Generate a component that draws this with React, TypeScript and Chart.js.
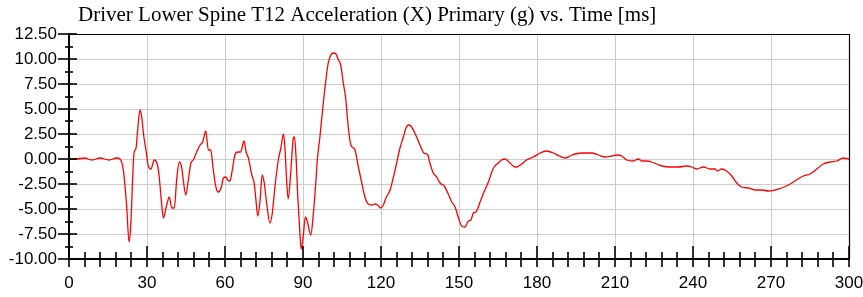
import React, { useEffect, useRef } from "react";
import { Chart, registerables } from "chart.js";

Chart.register(...registerables);

const TITLE = "Driver Lower Spine T12 Acceleration (X) Primary (g) vs. Time [ms]";

const timeMs: number[] = [
  0, 3, 6, 8.7, 12, 15.4, 18.3, 19.6, 20.9, 22.2, 23.1, 23.8, 24.5, 25, 25.8, 26.4, 27.3, 27.9, 28.8, 29.6,
  30.5, 31.5, 32.8, 34, 34.7, 35.6, 36.3, 37.3, 38.6, 39.5, 40.5, 41.4, 42.4, 43.3, 44, 44.9, 45.9, 46.9, 47.8, 49.1,
  50.4, 51.4, 52.6, 53.6, 54.5, 55.5, 56.5, 57.4, 58.5, 59.4, 60.3, 61, 61.9, 62.8, 63.8, 64.9, 66, 67.3, 68.1, 69,
  70.3, 71.2, 71.9, 72.6, 73.5, 74.3, 75.1, 76, 77.3, 78.2, 79.2, 80.5, 81.5, 82.5, 83.1, 83.7, 84.3, 85.3, 86.3, 86.7,
  87.3, 88, 88.8, 89.3, 90.1, 90.9, 91.7, 93, 94, 94.9, 95.5, 96.5, 97.8, 98.8, 99.7, 100.7, 101.7, 102.7, 103.6, 104.5,
  105.5, 106.4, 107.4, 108.4, 109.4, 110, 111.3, 112.6, 113.8, 115.1, 116.4, 117.7, 118.7, 119.9, 120.9, 121.9, 123.5, 124.7, 126, 127.3,
  128.6, 129.6, 130.5, 131.5, 133.7, 135, 136.5, 138, 138.8, 140.1, 141.4, 142.7, 144.3, 145.7, 147.2, 148.5, 149.7, 151, 152.3, 153.6,
  154.6, 155.5, 156.5, 158.1, 159.6, 161.3, 162.6, 163.5, 165.1, 166.4, 167.7, 169.6, 171.5, 172.2, 174.1, 176, 178.6, 181.2, 183.5, 186.3,
  188.6, 190.8, 192.7, 194.6, 197.8, 201, 203.6, 206.2, 208.7, 210.7, 212.6, 214.5, 217, 219, 220.3, 222.2, 224.1, 226, 228, 231.2,
  234.3, 237.6, 239.5, 241.4, 244, 246.5, 248.5, 249.3, 251, 252.9, 254.9, 256.8, 258.7, 261.3, 263.8, 266.4, 269, 271.5, 274.1, 276.7,
  279.2, 282.4, 285, 287.6, 290.1, 292.7, 295.3, 297.8, 300,
];

const accelG: number[] = [
  0, 0.0, 0.1, -0.1, 0.1, -0.1, 0.1, 0.0, -1.1, -4.8, -8.3, -6.4, -1.8, 0.6, 1.1, 2.9, 4.9, 4.3, 2.2, 0.9,
  -0.7, -1.0, -0.1, -0.6, -1.8, -4.4, -5.9, -4.9, -3.8, -4.9, -4.9, -2.1, -0.3, -0.8, -2.2, -3.6, -2.1, -0.4, -0.1, 0.7,
  1.4, 1.7, 2.8, 0.9, 0.9, -1.1, -2.8, -3.3, -2.9, -1.9, -1.8, -2.1, -2.2, -1.1, 0.4, 0.7, 0.7, 1.8, 0.7, 0.1,
  -1.6, -2.4, -4.1, -5.7, -4.1, -1.6, -2.4, -4.4, -6.4, -5.4, -2.8, -0.1, 1.1, 2.5, 0.9, -2.1, -4.0, -1.3, 2.1, 2.2,
  0.3, -3.8, -7.4, -9.0, -7.7, -5.8, -6.3, -7.6, -5.4, -2.4, -0.1, 2.2, 5.6, 7.9, 9.6, 10.4, 10.6, 10.5, 9.9, 9.4,
  7.6, 6.1, 3.2, 1.4, 1.1, 0.9, -0.8, -2.4, -3.8, -4.5, -4.6, -4.5, -4.6, -4.9, -4.6, -3.9, -3.1, -1.9, -0.4, 1.1,
  2.2, 3.1, 3.4, 3.3, 2.2, 1.4, 0.6, 0.4, -0.4, -1.4, -1.8, -2.4, -2.7, -3.4, -4.3, -4.8, -5.8, -6.7, -6.8, -6.2,
  -6.1, -5.4, -5.3, -4.3, -3.3, -2.3, -1.3, -0.8, -0.4, -0.1, 0.0, -0.4, -0.8, -0.8, -0.5, -0.1, 0.2, 0.6, 0.8, 0.6,
  0.3, 0.1, 0.3, 0.5, 0.6, 0.6, 0.4, 0.2, 0.3, 0.4, 0.3, -0.1, -0.2, 0.0, -0.2, -0.2, -0.3, -0.5, -0.7, -0.8,
  -0.8, -0.7, -0.8, -1.0, -0.8, -1.0, -1.0, -1.2, -1.0, -1.2, -1.7, -2.4, -2.8, -2.9, -3.1, -3.1, -3.2, -3.1, -2.9, -2.6,
  -2.2, -1.7, -1.5, -1.0, -0.5, -0.3, -0.2, 0.1, 0.0,
];

const xMin = 0;
const xMax = 300;
const xStep = 30;
const xMinorStep = 6;
const yMin = -10;
const yMax = 12.5;
const yStep = 2.5;
const yMinorStep = 1.25;

const W = 863;
const H = 297;

const framePlugin = {
  id: "frame",
  afterDraw(chart: any) {
    const { ctx, chartArea, scales } = chart;
    const { left, right, top, bottom } = chartArea;
    const x = scales.x;
    const y = scales.y;
    ctx.save();
    ctx.strokeStyle = "#000";
    ctx.lineWidth = 1.2;
    ctx.beginPath();
    ctx.moveTo(left, top + 0.5);
    ctx.lineTo(right + 0.5, top + 0.5);
    ctx.lineTo(right + 0.5, bottom);
    ctx.stroke();
    ctx.lineWidth = 1.6;
    for (let t = xMin; t <= xMax + 1e-6; t += xMinorStep) {
      const px = Math.round(x.getPixelForValue(t));
      const major = Math.abs(t % xStep) < 1e-6;
      ctx.beginPath();
      ctx.moveTo(px, bottom - (major ? 13 : 7));
      ctx.lineTo(px, bottom + 8);
      ctx.stroke();
    }
    for (let v = yMin; v <= yMax + 1e-6; v += yMinorStep) {
      const py = Math.round(y.getPixelForValue(v));
      const k = (v - yMin) / yStep;
      const major = Math.abs(k - Math.round(k)) < 1e-6;
      ctx.beginPath();
      ctx.moveTo(left - (major ? 11 : 4), py);
      ctx.lineTo(left + (major ? 8 : 4), py);
      ctx.stroke();
    }
    ctx.fillStyle = "#000";
    ctx.font = '21px "Liberation Serif", "Times New Roman", serif';
    ctx.textAlign = "left";
    ctx.textBaseline = "alphabetic";
    ctx.fillText(TITLE, 78, 21);
    ctx.restore();
  },
};

export default function App() {
  const ref = useRef<HTMLCanvasElement | null>(null);

  useEffect(() => {
    if (!ref.current) return;
    const points = timeMs.map((t, i) => ({ x: t, y: accelG[i] }));
    const chart = new Chart(ref.current, {
      type: "line",
      data: {
        datasets: [
          {
            data: points,
            borderColor: "#ff0000",
            borderWidth: 1.3,
            pointRadius: 0,
            fill: false,
            cubicInterpolationMode: "monotone",
          },
        ],
      },
      options: {
        animation: false,
        responsive: false,
        devicePixelRatio: 1,
        layout: { padding: { top: 34, right: 14, left: 0, bottom: 0 } },
        plugins: { legend: { display: false }, tooltip: { enabled: false }, title: { display: false } },
        scales: {
          x: {
            type: "linear",
            min: xMin,
            max: xMax,
            afterFit: (s: any) => {
              s.height = 38;
              s.paddingLeft = 0;
              s.paddingRight = 0;
            },
            ticks: {
              stepSize: xStep,
              autoSkip: false,
              maxRotation: 0,
              padding: 14,
              color: "#000",
              font: { family: '"Liberation Sans", Arial, sans-serif', size: 17 },
            },
            grid: { color: "#cccccc", lineWidth: 1, drawTicks: false },
            border: { color: "#000", width: 2 },
          },
          y: {
            type: "linear",
            min: yMin,
            max: yMax,
            afterFit: (s: any) => {
              s.width = 69;
              s.paddingTop = 0;
              s.paddingBottom = 0;
            },
            ticks: {
              stepSize: yStep,
              autoSkip: false,
              padding: 12,
              color: "#000",
              font: { family: '"Liberation Sans", Arial, sans-serif', size: 17 },
              callback: (v: any) => Number(v).toFixed(2),
            },
            grid: { color: "#cccccc", lineWidth: 1, drawTicks: false },
            border: { color: "#000", width: 2 },
          },
        },
      },
      plugins: [framePlugin],
    });
    return () => chart.destroy();
  }, []);

  return (
    <div style={{ position: "absolute", left: 0, top: 0, width: W, height: H, background: "#fff" }}>
      <canvas ref={ref} width={W} height={H} style={{ display: "block", width: W, height: H }} />
    </div>
  );
}
